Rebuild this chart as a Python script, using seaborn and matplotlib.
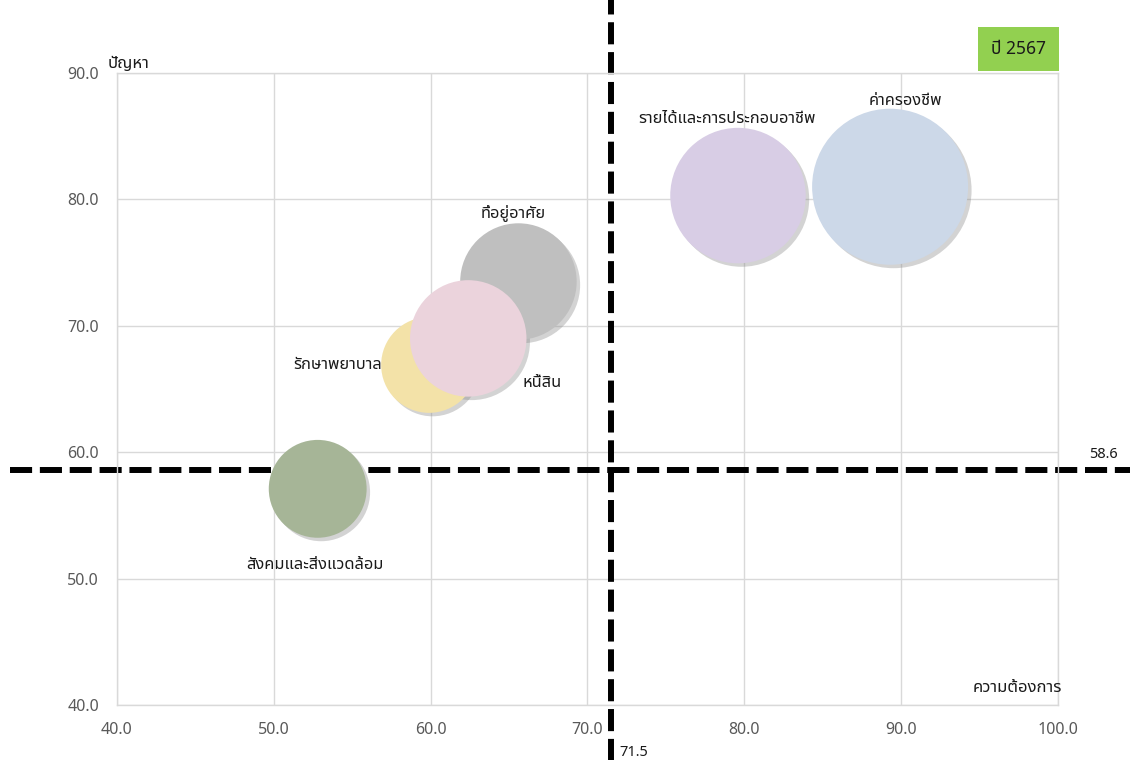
import pandas as pd
import matplotlib
matplotlib.use('Agg')
import matplotlib.pyplot as plt
import matplotlib.patheffects as pe
from matplotlib import font_manager
from matplotlib.ft2font import FT2Font
import seaborn as sns

# data
issues = ['ค่าครองชีพ', 'รายได้และการประกอบอาชีพ', 'ที่อยู่อาศัย', 'รักษาพยาบาล', 'หนี้สิน', 'สังคมและสิ่งแวดล้อม']
need = [89.3, 79.6, 65.6, 59.9, 62.4, 52.8]        # ความต้องการ (x)
problem = [81.0, 80.3, 73.5, 66.9, 69.0, 57.1]     # ปัญหา (y)
bubble = [6.1, 4.6, 3.4, 2.3, 3.4, 2.4]            # bubble size
need_avg = 71.5
problem_avg = 58.6
year_label = 'ปี 2567'
x_ticks = [40, 50, 60, 70, 80, 90, 100]
y_ticks = [40, 50, 60, 70, 80, 90]

colors = {
    'ค่าครองชีพ': '#CCD8E8',
    'รายได้และการประกอบอาชีพ': '#D8CDE5',
    'ที่อยู่อาศัย': '#BFBFBF',
    'รักษาพยาบาล': '#F3E2A8',
    'หนี้สิน': '#EBD3DC',
    'สังคมและสิ่งแวดล้อม': '#A6B597',
}
# label offsets (points) from bubble centre
label_offset = {
    'ค่าครองชีพ': (11, 62),
    'รายได้และการประกอบอาชีพ': (-8, 55),
    'ที่อยู่อาศัย': (-4, 50),
    'รักษาพยาบาล': (-66, 0),
    'หนี้สิน': (53, -32),
    'สังคมและสิ่งแวดล้อม': (-2, -55),
}

df = pd.DataFrame({'issue': issues, 'need': need, 'problem': problem, 'size': bubble})


def thai_fonts():
    names = []
    for f in font_manager.fontManager.ttflist:
        try:
            if 0x0E01 in FT2Font(f.fname).get_charmap():
                names.append(f.name)
        except Exception:
            pass
    return names


sns.set_theme(style='white')
found = thai_fonts()
prefer = ['Noto Sans Thai', 'Noto Sans Thai UI', 'Leelawadee UI', 'Tahoma', 'Loma', 'Garuda', 'Sarabun']
thai = [p for p in prefer if p in found] + sorted(set(found))
plt.rcParams['font.family'] = thai[:1] + ['DejaVu Sans']

fig = plt.figure(figsize=(11.3, 7.6), dpi=100)
ax = fig.add_axes([0.1035, 0.0724, 0.8327, 0.8316])

# average lines
dash = dict(color='black', lw=4.3, ls=(0, (3.7, 1.3)), clip_on=False, zorder=1)
ax.axvline(need_avg, ymin=-0.09, ymax=1.12, **dash)
ax.axhline(problem_avg, xmin=-0.114, xmax=1.08, **dash)

smax = (78 * 0.72 * 2) ** 2
sns.scatterplot(data=df, x='need', y='problem', hue='issue', palette=colors,
                size='size', sizes=(0, smax), size_norm=(0, max(bubble)),
                linewidth=0, legend=False, ax=ax, zorder=3)
ax.collections[-1].set_path_effects([
    pe.SimplePatchShadow(offset=(2.5, -2.5), shadow_rgbFace='#8c8c8c', alpha=0.38),
    pe.Normal()])

for _, r in df.iterrows():
    ax.annotate(r['issue'], (r['need'], r['problem']), xytext=label_offset[r['issue']],
                textcoords='offset points', ha='center', va='center',
                fontsize=11.8, color='#1a1a1a', zorder=5)

ax.set_xlim(40, 100)
ax.set_ylim(40, 90)
ax.set_xticks(x_ticks)
ax.set_yticks(y_ticks)
ax.set_xticklabels([f'{v:.1f}' for v in x_ticks])
ax.set_yticklabels([f'{v:.1f}' for v in y_ticks])
ax.tick_params(length=0, labelsize=11.5, labelcolor='#595959')
ax.tick_params(axis='x', pad=12)
ax.tick_params(axis='y', pad=13)
ax.grid(True, color='#D9D9D9', lw=1)
ax.set_axisbelow(True)
for s in ax.spines.values():
    s.set_color('#D9D9D9')
    s.set_linewidth(1)
ax.set_xlabel('')
ax.set_ylabel('')

ax.text(-0.0096, 1.014, 'ปัญหา', transform=ax.transAxes, ha='left', va='center',
        fontsize=12, color='#1a1a1a')
ax.text(1.004, 0.027, 'ความต้องการ', transform=ax.transAxes, ha='right', va='center',
        fontsize=12, color='#1a1a1a')
ax.text(0.958, 1.038, year_label, transform=ax.transAxes, ha='center', va='center',
        fontsize=12.5, color='#1a1a1a',
        bbox=dict(boxstyle='square,pad=0.75', facecolor='#92D050', edgecolor='none'))

ax.annotate(f'{problem_avg}', (1.0, problem_avg), xycoords=('axes fraction', 'data'),
            xytext=(33, 11), textcoords='offset points', ha='center', va='center',
            fontsize=10.5, color='#1a1a1a', annotation_clip=False)
ax.annotate(f'{need_avg}', (need_avg, 0), xycoords=('data', 'axes fraction'),
            xytext=(6, -34), textcoords='offset points', ha='left', va='center',
            fontsize=10.5, color='#1a1a1a', annotation_clip=False)

fig.savefig('out.png', dpi=100)
